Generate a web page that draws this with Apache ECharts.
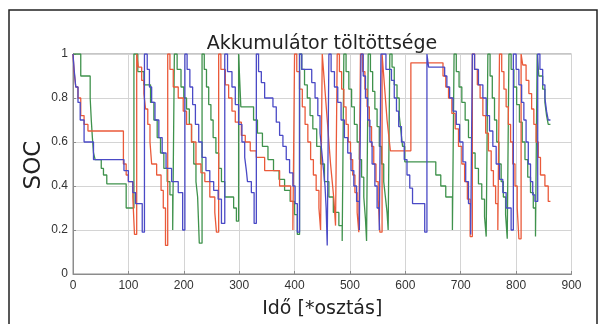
<!DOCTYPE html>
<html>
<head>
<meta charset="utf-8">
<script src="https://cdn.jsdelivr.net/npm/echarts@6/dist/echarts.min.js"></script>
<style>
html,body{margin:0;padding:0;background:#fff;}
#c{width:603px;height:324px;}
</style>
</head>
<body>
<div id="c"></div>
<script>
const titleText = 'Akkumulátor töltöttsége';
const xName = 'Idő [*osztás]';
const yName = 'SOC';
const xTicks = [0, 100, 200, 300, 400, 500, 600, 700, 800, 900];
const yTicks = [0, 0.2, 0.4, 0.6, 0.8, 1];

// [time, SOC] step points (level starts at time)
const blueSOC = [
[0,1],[2,0.93],[5,0.85],[9,0.78],[13,0.7],[20,0.6],[37,0.52],[92,0.47],[100,0.42],[108,0.37],[113,0.32],[125,0.19],
[129,1],[134,0.93],[138,0.85],[142,0.78],[148,0.7],[155,0.62],[161,0.55],[168,0.48],[178,0.42],[190,0.37],[198,0.2],
[202,1],[206,0.93],[211,0.85],[216,0.77],[221,0.68],[227,0.6],[233,0.53],[240,0.47],[247,0.42],[254,0.38],[262,0.34],[268,0.23],
[274,1],[279,0.92],[287,0.85],[293,0.77],[299,0.68],[305,0.6],[310,0.53],[313,0.47],[315,0.42],[322,0.37],[327,0.23],
[331,1],[335,0.92],[340,0.87],[346,0.8],[361,0.76],[367,0.69],[373,0.63],[379,0.58],[385,0.52],[391,0.46],[397,0.4],[401,0.32],[405,0.19],
[409,1],[413,0.93],[431,0.87],[437,0.8],[442,0.72],[446,0.64],[449,0.56],[452,0.48],[455,0.4],[457,0.3],[459,0.13],
[462,1],[466,0.92],[472,0.85],[478,0.78],[484,0.7],[490,0.62],[496,0.55],[502,0.47],[507,0.4],[512,0.33],[517,0.2],
[520,1],[524,0.9],[528,0.8],[532,0.7],[536,0.6],[540,0.5],[545,0.4],[549,0.3],[553,0.2],
[556,1],[565,0.93],[575,0.88],[580,0.8],[584,0.74],[588,0.67],[593,0.6],[598,0.52],[603,0.45],[608,0.39],[613,0.32],[635,0.19],
[639,1],[642,0.94],[671,0.9],[675,0.85],[680,0.8],[686,0.74],[692,0.68],[698,0.6],[704,0.51],[709,0.42],[714,0.32],[718,0.18],
[721,1],[725,0.93],[732,0.86],[740,0.8],[746,0.72],[752,0.65],[758,0.58],[764,0.5],[770,0.43],[776,0.37],[782,0.3],[791,0.2],
[795,1],[800,0.93],[805,0.86],[810,0.78],[814,0.7],[818,0.6],[822,0.5],[826,0.42],[830,0.36],[834,0.33],
[839,1],[843,0.93],[848,0.86],[852,0.8],[855,0.74],[858,0.7],[862,0.7]
];

const greenSOC = [
[0,1],[14,0.9],[31,0.8],[33,0.7],[35,0.62],[37,0.55],[40,0.52],[51,0.48],[55,0.45],[61,0.41],[96,0.3],
[110,1],[117,0.92],[128,0.86],[140,0.78],[146,0.7],[152,0.62],[158,0.55],[164,0.48],[170,0.42],[175,0.36],[180,0.2],
[183,1],[188,0.93],[195,0.85],[200,0.8],[205,0.75],[210,0.68],[214,0.6],[218,0.5],[222,0.42],[225,0.35],[228,0.14],
[233,1],[237,0.93],[241,0.85],[245,0.77],[249,0.7],[253,0.62],[258,0.55],[263,0.48],[268,0.42],[274,0.35],[290,0.3],[295,0.24],
[299,1],[301,0.88],[303,0.76],[326,0.7],[333,0.64],[342,0.58],[352,0.52],[362,0.47],[372,0.43],[382,0.38],[392,0.33],[400,0.27],[405,0.18],
[409,1],[413,0.93],[418,0.86],[423,0.8],[428,0.72],[433,0.66],[440,0.58],[447,0.5],[454,0.42],[462,0.35],[470,0.28],[480,0.22],[486,0.15],
[489,1],[493,0.92],[498,0.84],[503,0.76],[508,0.68],[513,0.6],[517,0.52],[521,0.44],[525,0.35],[528,0.25],[530,0.15],
[533,1],[537,0.92],[541,0.83],[545,0.75],[549,0.67],[553,0.58],[557,0.5],[561,0.42],[564,0.35],[567,0.28],[569,0.2],
[572,1],[576,0.94],[580,0.86],[585,0.8],[589,0.72],[592,0.65],[595,0.58],[599,0.51],[655,0.45],[664,0.4],[673,0.35],[685,0.2],
[688,1],[692,0.92],[697,0.85],[702,0.78],[708,0.7],[714,0.62],[720,0.55],[726,0.48],[732,0.41],[738,0.34],[743,0.26],[746,0.17],
[749,1],[753,0.9],[757,0.8],[761,0.7],[765,0.6],[769,0.5],[773,0.42],[777,0.35],[781,0.27],[784,0.16],
[787,1],[791,0.93],[796,0.85],[801,0.77],[806,0.69],[811,0.6],[816,0.52],[821,0.44],[826,0.37],[831,0.3],[835,0.17],
[838,1],[841,0.9],[848,0.84],[852,0.78],[855,0.72],[858,0.68],[862,0.68]
];

const redSOC = [
[0,1],[2,0.92],[5,0.85],[9,0.8],[14,0.72],[20,0.68],[27,0.65],[91,0.5],[96,0.45],[100,0.42],[108,0.35],[111,0.18],
[115,1],[118,0.94],[124,0.88],[128,0.82],[131,0.75],[135,0.68],[139,0.6],[142,0.5],[151,0.45],[159,0.38],[163,0.3],[167,0.13],
[171,1],[175,0.93],[181,0.85],[190,0.8],[199,0.74],[205,0.68],[214,0.6],[222,0.5],[231,0.46],[238,0.42],[247,0.35],[256,0.28],[259,0.19],
[263,1],[267,0.93],[275,0.86],[281,0.8],[287,0.74],[293,0.69],[304,0.63],[311,0.6],[320,0.56],[331,0.53],[346,0.47],[373,0.4],[393,0.33],[397,0.2],
[400,1],[404,0.92],[409,0.84],[414,0.76],[419,0.68],[424,0.6],[429,0.52],[434,0.45],[439,0.38],[444,0.3],[447,0.2],
[450,1],[453,0.9],[456,0.8],[459,0.7],[462,0.6],[465,0.5],[468,0.42],[471,0.34],[474,0.22],
[477,1],[481,0.92],[485,0.84],[489,0.76],[493,0.68],[497,0.6],[501,0.52],[505,0.45],[509,0.37],[513,0.28],[516,0.19],
[519,1],[523,0.92],[527,0.84],[531,0.76],[535,0.67],[539,0.58],[543,0.5],[547,0.42],[551,0.34],[554,0.19],
[558,1],[561,0.9],[564,0.8],[567,0.7],[570,0.63],[573,0.56],[610,0.96],[668,0.9],[673,0.85],[678,0.8],[684,0.73],[690,0.66],[696,0.58],[702,0.5],[707,0.42],[712,0.34],[717,0.17],
[721,1],[725,0.93],[730,0.86],[735,0.8],[740,0.72],[745,0.64],[750,0.56],[755,0.47],[759,0.4],[763,0.32],[767,0.2],
[770,1],[774,0.92],[778,0.84],[782,0.76],[786,0.68],[790,0.6],[794,0.5],[798,0.4],[802,0.3],[805,0.16],
[809,1],[812,0.95],[818,0.88],[823,0.82],[828,0.75],[832,0.68],[836,0.6],[840,0.53],[844,0.45],[852,0.4],[858,0.33],[862,0.33]
];

const chart = echarts.init(document.getElementById('c'), null, {renderer: 'canvas'});
function lineSeries(name, data, color) {
  return {
    name: name, type: 'line', step: 'end', data: data,
    showSymbol: false, symbol: 'none', animation: false,
    lineStyle: {color: color, width: 1.3}, z: 3
  };
}
chart.setOption({
  animation: false,
  backgroundColor: '#ffffff',
  grid: {left: 73, right: 31.5, top: 54, bottom: 49, show: true, borderColor: '#8c8c8c', borderWidth: 1, backgroundColor: '#ffffff'},
  xAxis: {
    type: 'value', min: xTicks[0], max: xTicks[xTicks.length - 1], interval: 100,
    name: xName, nameLocation: 'middle', nameGap: 26,
    nameTextStyle: {fontFamily: 'DejaVu Sans', fontSize: 19, color: '#222'},
    axisLine: {show: true, lineStyle: {color: '#8c8c8c', width: 1}},
    axisTick: {show: true, inside: true, length: 3, lineStyle: {color: '#8c8c8c'}},
    axisLabel: {fontFamily: 'Liberation Sans', fontSize: 12, color: '#333', margin: 6},
    splitLine: {show: true, lineStyle: {color: '#d4d4d4', width: 1}}
  },
  yAxis: {
    type: 'value', min: yTicks[0], max: yTicks[yTicks.length - 1], interval: 0.2,
    axisLine: {show: true, lineStyle: {color: '#8c8c8c', width: 1}},
    axisTick: {show: true, inside: true, length: 3, lineStyle: {color: '#8c8c8c'}},
    axisLabel: {fontFamily: 'Liberation Sans', fontSize: 12, color: '#333', margin: 5,
      formatter: function (v) { return (v === 0 || v === 1) ? String(v) : v.toFixed(1); }},
    splitLine: {show: true, lineStyle: {color: '#d4d4d4', width: 1}}
  },
  graphic: [
    {type: 'rect', shape: {x: 9, y: 10, width: 588, height: 330}, style: {fill: 'none', stroke: '#222', lineWidth: 1.5}, z: 100},
    {type: 'text', x: 322, y: 44, style: {text: titleText, font: '19px "DejaVu Sans"', fill: '#222', align: 'center', verticalAlign: 'middle'}, z: 100},
    {type: 'text', x: 34, y: 165, rotation: Math.PI / 2, style: {text: yName, font: '23px "DejaVu Sans"', fill: '#222', align: 'center', verticalAlign: 'middle'}, z: 100}
  ],
  series: [
    lineSeries('green', greenSOC, '#3f924c'),
    lineSeries('red', redSOC, '#ea5a3a'),
    lineSeries('blue', blueSOC, '#4a4ac6')
  ]
});
</script>
</body>
</html>
